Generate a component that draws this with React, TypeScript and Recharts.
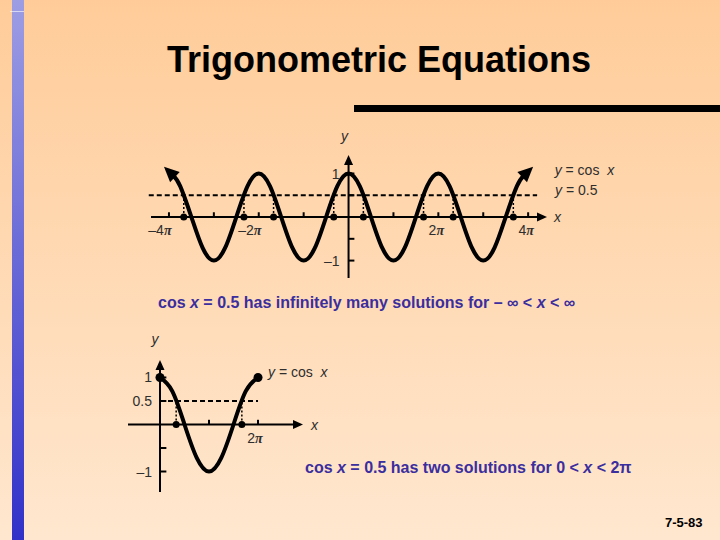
import { LineChart, Line, XAxis, YAxis, ReferenceLine, ReferenceDot } from "recharts"

// x values are in units of π
const wideX = [
  -3.9, -3.75, -3.5, -3.25, -3, -2.75, -2.5, -2.25, -2, -1.75, -1.5, -1.25, -1, -0.75, -0.5, -0.25, 0,
  0.25, 0.5, 0.75, 1, 1.25, 1.5, 1.75, 2, 2.25, 2.5, 2.75, 3, 3.25, 3.5, 3.75, 3.9,
]
const wideY = [
  0.95, 0.71, 0, -0.71, -1, -0.71, 0, 0.71, 1, 0.71, 0, -0.71, -1, -0.71, 0, 0.71, 1,
  0.71, 0, -0.71, -1, -0.71, 0, 0.71, 1, 0.71, 0, -0.71, -1, -0.71, 0, 0.71, 0.95,
]
const wideSolutions = [-3.67, -2.33, -1.67, -0.33, 0.33, 1.67, 2.33, 3.67]
const wideXTicks = [-4, -3, -2, -1, 1, 2, 3, 4]
const wideXLabels = ["–4", "", "–2", "", "", "2", "", "4"]
const wideYTicks = [1, 0.5, -0.5, -1]
const wideYLabels = ["1", "", "", "–1"]

const periodX = [0, 0.25, 0.5, 0.75, 1, 1.25, 1.5, 1.75, 2]
const periodY = [1, 0.71, 0, -0.71, -1, -0.71, 0, 0.71, 1]
const periodSolutions = [0.33, 1.67]
const periodXTicks = [1, 2]
const periodXLabels = ["", "2"]
const periodYTicks = [1, 0.5, -0.5, -1]
const periodYLabels = ["1", "0.5", "", "–1"]

const halfValue = 0.5

const wideData = wideX.map((x, i) => ({ x, y: wideY[i] }))
const periodData = periodX.map((x, i) => ({ x, y: periodY[i] }))

const labelFont = { fontFamily: "'Liberation Sans', Arial, sans-serif", fontSize: 14, fill: "#2e2e2e" }
const piFont = { fontFamily: "'Liberation Serif', serif", fontWeight: "bold" as const, fontStyle: "italic" as const }
const purple = "#3b2e9e"

function ArrowLine(props: any) {
  const { x1, y1, x2, y2, stroke, strokeWidth } = props
  const a = Math.atan2(y2 - y1, x2 - x1)
  const len = 10
  const half = 4.5
  const bx = x2 - len * Math.cos(a)
  const by = y2 - len * Math.sin(a)
  const pts = `${x2},${y2} ${bx + half * Math.sin(a)},${by - half * Math.cos(a)} ${bx - half * Math.sin(a)},${by + half * Math.cos(a)}`
  return (
    <g>
      <line x1={x1} y1={y1} x2={bx} y2={by} stroke={stroke} strokeWidth={strokeWidth} />
      <polygon points={pts} fill={stroke} />
    </g>
  )
}

const textAt = (content: any, dx: number, dy: number, anchor: string = "middle") => (p: any) => (
  <text x={p.cx + dx} y={p.cy + dy} textAnchor={anchor} style={labelFont}>
    {content}
  </text>
)

const piText = (num: string) => (
  <>
    {num}
    <tspan style={piFont}>π</tspan>
  </>
)

const cosText = (
  <>
    <tspan fontStyle="italic">y</tspan>
    {"\u00a0=\u00a0cos\u00a0\u00a0"}
    <tspan fontStyle="italic">x</tspan>
  </>
)

// arrowheads at both ends of the long curve
const curveArrow = (p: any) => {
  const { cx, cy, index } = p
  const last = wideData.length - 1
  if (index !== 0 && index !== last) return <g key={`d${index}`} />
  const dir = index === 0 ? -1 : 1
  const a = Math.atan2(-0.94, dir)
  const tipX = cx + 13 * Math.cos(a)
  const tipY = cy + 13 * Math.sin(a)
  const bx = cx - 2 * Math.cos(a)
  const by = cy - 2 * Math.sin(a)
  const h = 7
  const pts = `${tipX},${tipY} ${bx + h * Math.sin(a)},${by - h * Math.cos(a)} ${bx - h * Math.sin(a)},${by + h * Math.cos(a)}`
  return <polygon key={`d${index}`} points={pts} fill="#000" />
}

const endDots = (p: any) => {
  const { cx, cy, index } = p
  if (index !== 0 && index !== periodData.length - 1) return <g key={`e${index}`} />
  return <circle key={`e${index}`} cx={cx} cy={cy} r={4.5} fill="#000" />
}

export default function App() {
  return (
    <div
      style={{
        position: "absolute",
        left: 0,
        top: 0,
        width: 720,
        height: 540,
        overflow: "hidden",
        background: "linear-gradient(#ffcc99, #ffe7cf)",
        fontFamily: "'Liberation Sans', Arial, sans-serif",
      }}
    >
      {/* left accent bar */}
      <div
        style={{
          position: "absolute",
          left: 12,
          top: 0,
          width: 12,
          height: 540,
          background: "linear-gradient(#9d9de4, #3131c9)",
        }}
      />
      <div style={{ position: "absolute", left: 10, top: 11, width: 14, height: 1, background: "rgba(255,255,255,0.6)" }} />

      <div
        style={{
          position: "absolute",
          left: 0,
          top: 40,
          width: 758,
          textAlign: "center",
          fontSize: 36,
          lineHeight: "40px",
          fontWeight: "bold",
          color: "#000",
        }}
      >
        Trigonometric Equations
      </div>
      <div style={{ position: "absolute", left: 354, top: 105, width: 366, height: 7, background: "#000" }} />

      {/* all solutions */}
      <div style={{ position: "absolute", left: 0, top: 0 }}>
        <LineChart width={720} height={300} data={wideData} margin={{ top: 155, right: 173, bottom: 22, left: 151 }}>
          <XAxis type="number" dataKey="x" domain={[-4.4, 4.42]} hide />
          <YAxis type="number" domain={[-1.4, 1.425]} hide />
          <ReferenceLine
            segment={[{ x: -4.4, y: 0 }, { x: 4.42, y: 0 }]}
            stroke="#000"
            strokeWidth={2}
            ifOverflow="visible"
            shape={ArrowLine}
          />
          <ReferenceLine
            segment={[{ x: 0, y: -1.4 }, { x: 0, y: 1.425 }]}
            stroke="#000"
            strokeWidth={2}
            ifOverflow="visible"
            shape={ArrowLine}
          />
          <ReferenceLine
            segment={[{ x: -4.45, y: halfValue }, { x: 4.2, y: halfValue }]}
            stroke="#000"
            strokeWidth={2}
            strokeDasharray="5 3"
            ifOverflow="visible"
          />
          {wideXTicks.map((t) => (
            <ReferenceLine
              key={`xt${t}`}
              segment={[{ x: t, y: 0 }, { x: t, y: 0.11 }]}
              stroke="#000"
              strokeWidth={2}
              ifOverflow="visible"
            />
          ))}
          {wideYTicks.map((t) => (
            <ReferenceLine
              key={`yt${t}`}
              segment={[{ x: 0, y: t }, { x: 0.13, y: t }]}
              stroke="#000"
              strokeWidth={2}
              ifOverflow="visible"
            />
          ))}
          {wideSolutions.map((s) => (
            <ReferenceLine
              key={`sv${s}`}
              segment={[{ x: s, y: 0 }, { x: s, y: halfValue }]}
              stroke="#000"
              strokeWidth={1.5}
              strokeDasharray="2 2"
              ifOverflow="visible"
            />
          ))}
          {wideSolutions.map((s) => (
            <ReferenceDot key={`sd${s}`} x={s} y={0} r={3.5} fill="#000" stroke="none" ifOverflow="visible" />
          ))}
          {wideXTicks.map((t, i) =>
            wideXLabels[i] ? (
              <ReferenceDot
                key={`xl${t}`}
                x={t}
                y={0}
                ifOverflow="visible"
                shape={textAt(piText(wideXLabels[i]), t < 0 ? -9 : -2, 18)}
              />
            ) : null,
          )}
          {wideYTicks.map((t, i) =>
            wideYLabels[i] ? (
              <ReferenceDot key={`yl${t}`} x={0} y={t} ifOverflow="visible" shape={textAt(wideYLabels[i], -9, 5, "end")} />
            ) : null,
          )}
          <ReferenceDot x={0} y={1.425} ifOverflow="visible" shape={textAt(<tspan fontStyle="italic">y</tspan>, -4, -14)} />
          <ReferenceDot x={4.42} y={0} ifOverflow="visible" shape={textAt(<tspan fontStyle="italic">x</tspan>, 7, 5, "start")} />
          <ReferenceDot
            x={wideX[wideX.length - 1]}
            y={wideY[wideY.length - 1]}
            ifOverflow="visible"
            shape={textAt(cosText, 31, -1, "start")}
          />
          <ReferenceDot
            x={4.2}
            y={halfValue}
            ifOverflow="visible"
            shape={textAt(
              <>
                <tspan fontStyle="italic">y</tspan>
                {"\u00a0=\u00a00.5"}
              </>,
              18,
              0,
              "start",
            )}
          />
          <Line
            dataKey="y"
            type="natural"
            stroke="#000"
            strokeWidth={4}
            dot={curveArrow}
            activeDot={false}
            isAnimationActive={false}
          />
        </LineChart>
      </div>

      <div
        style={{
          position: "absolute",
          left: 158,
          top: 293,
          fontSize: 16,
          lineHeight: "20px",
          fontWeight: "bold",
          color: purple,
          whiteSpace: "nowrap",
        }}
      >
        cos <i>x</i> = 0.5 has infinitely many solutions for – ∞ &lt; <i>x</i> &lt; ∞
      </div>

      {/* one period */}
      <div style={{ position: "absolute", left: 0, top: 300 }}>
        <LineChart width={720} height={240} data={periodData} margin={{ top: 60, right: 417, bottom: 48, left: 128 }}>
          <XAxis type="number" dataKey="x" domain={[-0.653, 2.918]} hide />
          <YAxis type="number" domain={[-1.436, 1.372]} hide />
          <ReferenceLine
            segment={[{ x: -0.653, y: 0 }, { x: 2.918, y: 0 }]}
            stroke="#000"
            strokeWidth={2}
            ifOverflow="visible"
            shape={ArrowLine}
          />
          <ReferenceLine
            segment={[{ x: 0, y: -1.436 }, { x: 0, y: 1.372 }]}
            stroke="#000"
            strokeWidth={2}
            ifOverflow="visible"
            shape={ArrowLine}
          />
          <ReferenceLine
            segment={[{ x: 0, y: halfValue }, { x: 2, y: halfValue }]}
            stroke="#000"
            strokeWidth={2}
            strokeDasharray="5 3"
            ifOverflow="visible"
          />
          {periodXTicks.map((t) => (
            <ReferenceLine
              key={`pxt${t}`}
              segment={[{ x: t, y: 0 }, { x: t, y: 0.1 }]}
              stroke="#000"
              strokeWidth={2}
              ifOverflow="visible"
            />
          ))}
          {periodYTicks.map((t) => (
            <ReferenceLine
              key={`pyt${t}`}
              segment={[{ x: 0, y: t }, { x: 0.13, y: t }]}
              stroke="#000"
              strokeWidth={2}
              ifOverflow="visible"
            />
          ))}
          {periodSolutions.map((s) => (
            <ReferenceLine
              key={`psv${s}`}
              segment={[{ x: s, y: 0 }, { x: s, y: halfValue }]}
              stroke="#000"
              strokeWidth={1.5}
              strokeDasharray="2 2"
              ifOverflow="visible"
            />
          ))}
          {periodSolutions.map((s) => (
            <ReferenceDot key={`psd${s}`} x={s} y={0} r={3.5} fill="#000" stroke="none" ifOverflow="visible" />
          ))}
          {periodXTicks.map((t, i) =>
            periodXLabels[i] ? (
              <ReferenceDot key={`pxl${t}`} x={t} y={0} ifOverflow="visible" shape={textAt(piText(periodXLabels[i]), -3, 19)} />
            ) : null,
          )}
          {periodYTicks.map((t, i) =>
            periodYLabels[i] ? (
              <ReferenceDot key={`pyl${t}`} x={0} y={t} ifOverflow="visible" shape={textAt(periodYLabels[i], -8, 5, "end")} />
            ) : null,
          )}
          <ReferenceDot x={0} y={1.372} ifOverflow="visible" shape={textAt(<tspan fontStyle="italic">y</tspan>, -5, -16)} />
          <ReferenceDot x={2.918} y={0} ifOverflow="visible" shape={textAt(<tspan fontStyle="italic">x</tspan>, 8, 6, "start")} />
          <ReferenceDot
            x={periodX[periodX.length - 1]}
            y={periodY[periodY.length - 1]}
            ifOverflow="visible"
            shape={textAt(cosText, 10, 0, "start")}
          />
          <Line
            dataKey="y"
            type="natural"
            stroke="#000"
            strokeWidth={4}
            dot={endDots}
            activeDot={false}
            isAnimationActive={false}
          />
        </LineChart>
      </div>

      <div
        style={{
          position: "absolute",
          left: 305,
          top: 458,
          fontSize: 16,
          lineHeight: "20px",
          fontWeight: "bold",
          color: purple,
          whiteSpace: "nowrap",
        }}
      >
        cos <i>x</i> = 0.5 has two solutions for 0 &lt; <i>x</i> &lt; 2π
      </div>

      <div
        style={{
          position: "absolute",
          left: 665,
          top: 515,
          fontSize: 13,
          lineHeight: "16px",
          fontWeight: "bold",
          color: "#000",
        }}
      >
        7-5-83
      </div>
    </div>
  )
}
